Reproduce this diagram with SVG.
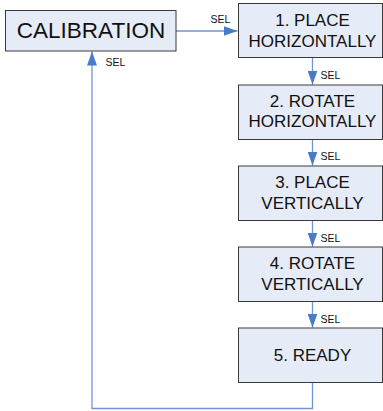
<svg xmlns="http://www.w3.org/2000/svg" width="383" height="411" viewBox="0 0 383 411">
<style>
.box{fill:#E6ECF7;stroke:#3a3a3a;stroke-width:1}
.t{font-family:"Liberation Sans",Arial,sans-serif;font-size:17px;fill:#111;text-anchor:middle}
.big{font-size:22.5px}
.lbl{font-family:"Liberation Sans",Arial,sans-serif;font-size:10.5px;fill:#111}
.c{fill:none;stroke:#6F95D2;stroke-width:1.3}
</style>
<defs>
<marker id="ah" viewBox="0 0 14 10" refX="14" refY="5" markerWidth="14" markerHeight="10" markerUnits="userSpaceOnUse" orient="auto">
<path d="M0,0 L14,5 L0,10 Z" fill="#4A7BC8"/>
</marker>
</defs>
<g id="connectors">
<path class="c" d="M176,31 H237.5" marker-end="url(#ah)"/>
<path class="c" d="M312.5,57.5 V84.5" marker-end="url(#ah)"/>
<path class="c" d="M312.5,139.5 V165.5" marker-end="url(#ah)"/>
<path class="c" d="M312.5,220.5 V246.5" marker-end="url(#ah)"/>
<path class="c" d="M312.5,301.5 V327.5" marker-end="url(#ah)"/>
<path class="c" d="M312.5,382.5 V408.5 H92 V51.5" marker-end="url(#ah)"/>
<text class="lbl" x="210.5" y="23">SEL</text>
<text class="lbl" x="320.5" y="79">SEL</text>
<text class="lbl" x="320.5" y="160">SEL</text>
<text class="lbl" x="320.5" y="242">SEL</text>
<text class="lbl" x="320.5" y="323">SEL</text>
<text class="lbl" x="105.5" y="66">SEL</text>
</g>
<g id="calibration">
<rect class="box" x="5.5" y="10.5" width="170.5" height="40.5"/>
<text class="t big" x="91" y="37.5">CALIBRATION</text>
</g>
<g id="step1">
<rect class="box" x="238.5" y="3.5" width="144" height="54"/>
<text class="t" x="312.5" y="26">1. PLACE</text>
<text class="t" x="312.5" y="46.5">HORIZONTALLY</text>
</g>
<g id="step2">
<rect class="box" x="238.5" y="85" width="144" height="54.5"/>
<text class="t" x="312.5" y="107">2. ROTATE</text>
<text class="t" x="312.5" y="127">HORIZONTALLY</text>
</g>
<g id="step3">
<rect class="box" x="238.5" y="166" width="144" height="54.5"/>
<text class="t" x="312.5" y="188">3. PLACE</text>
<text class="t" x="312.5" y="208.5">VERTICALLY</text>
</g>
<g id="step4">
<rect class="box" x="238.5" y="247" width="144" height="54.5"/>
<text class="t" x="312.5" y="269">4. ROTATE</text>
<text class="t" x="312.5" y="289.5">VERTICALLY</text>
</g>
<g id="step5">
<rect class="box" x="238.5" y="328" width="144" height="54.5"/>
<text class="t" x="312.5" y="361">5. READY</text>
</g>
</svg>
